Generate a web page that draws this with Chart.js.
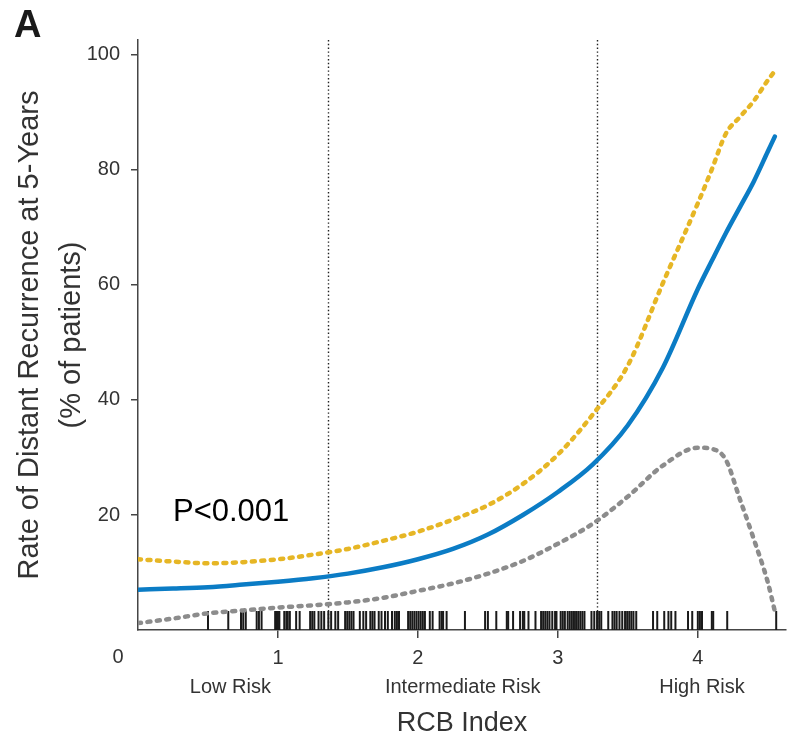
<!DOCTYPE html>
<html>
<head>
<meta charset="utf-8">
<script src="https://cdn.jsdelivr.net/npm/chart.js@4.4.1/dist/chart.umd.min.js"></script>
<style>
  html, body { margin: 0; padding: 0; background: #ffffff; }
  #wrap { width: 787px; height: 741px; position: relative; }
</style>
</head>
<body>
<div id="wrap"><canvas id="c" width="787" height="741"></canvas></div>
<script>
// ---------------- data ----------------
const curveX      = [0, 0.25, 0.5, 0.75, 1.0, 1.25, 1.5, 1.75, 2.0, 2.25, 2.5, 2.75, 3.0, 3.25, 3.5, 3.75, 4.0, 4.1, 4.2, 4.3, 4.4, 4.5, 4.55];
const meanRate    = [7.0, 7.2, 7.45, 7.9, 8.4, 9.0, 9.8, 10.9, 12.3, 14.1, 16.6, 20.0, 24.0, 28.8, 35.6, 45.6, 59.3, 64.2, 69.0, 73.5, 78.0, 83.2, 85.8];
const upperCI     = [12.3, 11.9, 11.6, 11.8, 12.3, 13.1, 14.1, 15.5, 17.1, 19.2, 21.7, 25.4, 30.5, 37.5, 46.0, 60.3, 74.2, 80.1, 86.3, 89.2, 92.0, 95.6, 97.2];
const lowerCI     = [1.2, 2.0, 2.9, 3.4, 3.9, 4.3, 4.8, 5.6, 6.8, 8.1, 9.8, 12.0, 15.0, 18.5, 23.2, 28.6, 31.7, 31.5, 29.6, 22.8, 15.8, 8.3, 3.3];
const rugRCB      = [0.50, 0.645, 0.736, 0.752, 0.77, 0.848, 0.864, 0.883, 0.98, 0.99, 1.0, 1.01, 1.045, 1.06, 1.07, 1.085,
                     1.13, 1.155, 1.23, 1.245, 1.26, 1.29, 1.31, 1.33, 1.36, 1.38, 1.41, 1.43, 1.48, 1.495, 1.51, 1.525, 1.54,
                     1.585, 1.61, 1.63, 1.66, 1.675, 1.69, 1.72, 1.74, 1.765, 1.785, 1.815, 1.835, 1.85, 1.865,
                     1.93, 1.945, 1.96, 1.975, 1.99, 2.005, 2.02, 2.035, 2.05, 2.085, 2.105, 2.155, 2.17, 2.18, 2.205,
                     2.336, 2.48, 2.50, 2.56, 2.635, 2.645, 2.68, 2.73, 2.75, 2.76, 2.79, 2.84, 2.88, 2.895, 2.91, 2.925, 2.94, 2.96, 2.98,
                     2.99, 3.02, 3.035, 3.05, 3.07, 3.085, 3.10, 3.115, 3.13, 3.145, 3.16, 3.175, 3.19, 3.24, 3.26, 3.28, 3.295, 3.31,
                     3.36, 3.39, 3.405, 3.42, 3.44, 3.46, 3.48, 3.495, 3.51, 3.525, 3.54, 3.56, 3.68, 3.71, 3.76, 3.79, 3.81, 3.84,
                     3.93, 3.96, 4.0, 4.015, 4.03, 4.10, 4.11, 4.21, 4.56];
const riskCutoffs = [1.36, 3.28];
const riskLabels  = ['Low Risk', 'Intermediate Risk', 'High Risk'];
const riskLabelX  = [0.66, 2.32, 4.03];
const xTicks      = [1, 2, 3, 4];
const yTicks      = [20, 40, 60, 80, 100];
const xTitle      = 'RCB Index';
const yTitle      = ['Rate of Distant Recurrence at 5-Years', '(% of patients)'];
const pValueText  = 'P<0.001';
const panelLabel  = 'A';

// ---------------- styles ----------------
const FONT = "'Liberation Sans', Arial, sans-serif";
const TEXT = '#333333';
const AXIS = '#454545';
const RUG_LEVEL = 1.65;

const toPts = (xs, ys) => xs.map((x, i) => ({ x: x, y: ys[i] }));

const extras = {
  id: 'extras',
  beforeDatasetsDraw(chart) {
    const { ctx, scales: { x, y } } = chart;
    ctx.save();
    ctx.strokeStyle = '#222';
    ctx.lineWidth = 1.4;
    ctx.setLineDash([1.4, 2.4]);
    riskCutoffs.forEach(v => {
      const px = Math.round(x.getPixelForValue(v)) + 0.5;
      ctx.beginPath();
      ctx.moveTo(px, y.getPixelForValue(y.max));
      ctx.lineTo(px, y.getPixelForValue(0));
      ctx.stroke();
    });
    ctx.restore();
  },
  afterDraw(chart) {
    const { ctx, scales: { x, y } } = chart;
    ctx.save();
    ctx.fillStyle = TEXT;
    // origin label
    ctx.font = "20px " + FONT;
    ctx.textAlign = 'center';
    ctx.textBaseline = 'middle';
    ctx.fillText('0', x.getPixelForValue(0) - 20, 657);
    // risk group labels
    ctx.font = "20px " + FONT;
    riskLabels.forEach((t, i) => ctx.fillText(t, x.getPixelForValue(riskLabelX[i]), 687));
    // p value
    ctx.fillStyle = '#000';
    ctx.font = "31px " + FONT;
    ctx.textAlign = 'left';
    ctx.textBaseline = 'alphabetic';
    ctx.fillText(pValueText, x.getPixelForValue(0.25), y.getPixelForValue(19));
    // panel label
    ctx.fillStyle = '#1a1a1a';
    ctx.font = "bold 38px " + FONT;
    ctx.fillText(panelLabel, 14, 37);
    ctx.restore();
  }
};

new Chart(document.getElementById('c'), {
  type: 'scatter',
  data: {
    datasets: [
      {
        label: 'Rug', data: rugRCB.map(v => ({ x: v, y: RUG_LEVEL })),
        showLine: false, pointStyle: 'line', rotation: 90, pointRadius: 9.5,
        pointHoverRadius: 9.5, pointBorderColor: '#1a1a1a', pointBorderWidth: 2, order: 4
      },
      {
        label: 'Lower 95% CI', data: toPts(curveX, lowerCI), showLine: true,
        borderColor: '#8c8c8c', borderWidth: 4.5, borderDash: [3, 6.5], borderCapStyle: 'round',
        pointRadius: 0, cubicInterpolationMode: 'monotone', order: 3
      },
      {
        label: 'Upper 95% CI', data: toPts(curveX, upperCI), showLine: true,
        borderColor: '#e6b625', borderWidth: 4.5, borderDash: [3, 6.5], borderCapStyle: 'round',
        pointRadius: 0, cubicInterpolationMode: 'monotone', order: 2
      },
      {
        label: 'Estimated rate', data: toPts(curveX, meanRate), showLine: true,
        borderColor: '#0b7cc5', borderWidth: 4.5, borderCapStyle: 'round',
        pointRadius: 0, cubicInterpolationMode: 'monotone', order: 1
      }
    ]
  },
  options: {
    responsive: false,
    animation: false,
    devicePixelRatio: 1,
    layout: { autoPadding: false, padding: { top: 40, right: 1, left: 0, bottom: 0 } },
    plugins: { legend: { display: false }, tooltip: { enabled: false } },
    scales: {
      x: {
        type: 'linear', min: 0, max: 4.63,
        afterBuildTicks: s => { s.ticks = xTicks.map(v => ({ value: v })); },
        afterFit: s => { s.height = 111; s.paddingLeft = 0; s.paddingRight = 0; },
        grid: { display: true, drawOnChartArea: false, drawTicks: true, tickLength: 8, color: AXIS, lineWidth: 1.5 },
        border: { display: true, color: AXIS, width: 1.5 },
        ticks: { color: TEXT, font: { family: FONT, size: 20 }, padding: 8, maxRotation: 0 },
        title: { display: true, text: xTitle, color: TEXT, font: { family: FONT, size: 27, lineHeight: 1.2 }, padding: { top: 0, bottom: 1 } }
      },
      y: {
        type: 'linear', min: 0, max: 102.6,
        afterBuildTicks: s => { s.ticks = yTicks.map(v => ({ value: v })); },
        afterFit: s => { s.width = 138; s.paddingTop = 0; s.paddingBottom = 0; },
        grid: { display: true, drawOnChartArea: false, drawTicks: true, tickLength: 7, color: AXIS, lineWidth: 1.5 },
        border: { display: true, color: AXIS, width: 1.5 },
        ticks: { color: TEXT, font: { family: FONT, size: 20 }, padding: 11 },
        title: { display: true, text: yTitle, color: TEXT, font: { family: FONT, size: 29, lineHeight: 1.45 }, padding: { top: 9, bottom: 0 } }
      }
    }
  },
  plugins: [extras]
});
</script>
</body>
</html>
